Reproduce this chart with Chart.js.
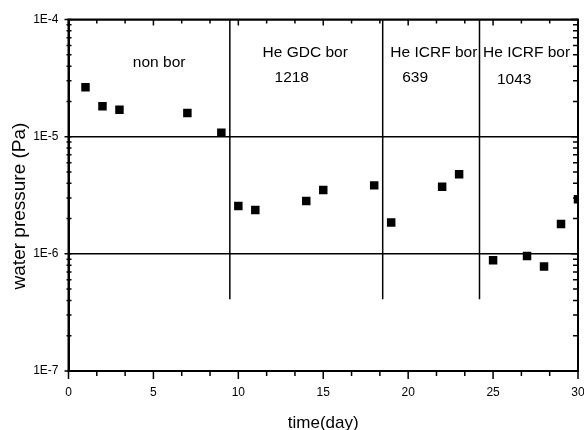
<!DOCTYPE html>
<html>
<head>
<meta charset="utf-8">
<script src="https://cdn.jsdelivr.net/npm/chart.js@4/dist/chart.umd.min.js"></script>
<style>
  html, body { margin: 0; padding: 0; background: #fff; }
  #wrap { width: 584px; height: 430px; position: relative; }
</style>
</head>
<body>
<div id="wrap"><canvas id="c"></canvas></div>
<script>
// ---- data ----
const days = [1, 2, 3, 7, 9, 10, 11, 14, 15, 18, 19, 22, 23, 25, 27, 28, 29, 30];
const pressure = [2.64e-5, 1.82e-5, 1.70e-5, 1.59e-5, 1.08e-5,
                  2.56e-6, 2.37e-6, 2.83e-6, 3.51e-6, 3.84e-6,
                  1.85e-6, 3.74e-6, 4.77e-6,
                  8.8e-7, 9.6e-7, 7.8e-7, 1.80e-6, 2.92e-6];
const dividerDays = [9.5, 18.5, 24.2];
const dividerTop = 1e-4;
const dividerBottom = 4.1e-7;
const yTickValues = [1e-7, 1e-6, 1e-5, 1e-4];
const yTickLabels = ['1E-7', '1E-6', '1E-5', '1E-4'];
const xTickValues = [0, 5, 10, 15, 20, 25, 30];
const annotationTexts = ['non bor', 'He GDC bor', '1218', 'He ICRF bor', '639', 'He ICRF bor', '1043'];
const annotationDays = [3.79, 11.43, 12.13, 18.95, 19.65, 24.41, 25.23];
const annotationValues = [4.25e-5, 5.18e-5, 3.17e-5, 5.18e-5, 3.17e-5, 5.18e-5, 3.05e-5];

const FONT = "'Liberation Sans', Arial, sans-serif";
Chart.defaults.font.family = FONT;
Chart.defaults.color = '#000';

const points = days.map((d, i) => ({ x: d, y: pressure[i] }));
const dividerSets = dividerDays.map(d => ({
  type: 'line',
  data: [{ x: d, y: dividerTop }, { x: d, y: dividerBottom }],
  borderColor: '#000',
  borderWidth: 1.5,
  pointRadius: 0,
  showLine: true,
  fill: false
}));

const decorPlugin = {
  id: 'decor',
  afterDraw(chart) {
    const ctx = chart.ctx;
    const xs = chart.scales.x, ys = chart.scales.y;
    const a = chart.chartArea;
    ctx.save();
    ctx.strokeStyle = '#000';
    // frame
    ctx.lineWidth = 2;
    ctx.strokeRect(a.left, a.top, a.right - a.left, a.bottom - a.top);
    // x ticks (bottom outward, top inward)
    ctx.lineWidth = 1.5;
    for (let i = 0; i <= 18; i++) {
      const v = i * 5 / 3;
      const px = xs.getPixelForValue(v);
      const major = (i % 3 === 0);
      const lb = major ? 8 : 5;
      const lt = major ? 6 : 4;
      ctx.beginPath();
      ctx.moveTo(px, a.bottom); ctx.lineTo(px, a.bottom + lb);
      ctx.moveTo(px, a.top); ctx.lineTo(px, a.top + lt);
      ctx.stroke();
    }
    // y ticks (left crossing, right inward)
    for (let d = -7; d <= -4; d++) {
      for (let m = 1; m <= 9; m++) {
        if (d === -4 && m > 1) break;
        const v = m * Math.pow(10, d);
        const py = ys.getPixelForValue(v);
        const major = (m === 1);
        ctx.beginPath();
        ctx.moveTo(a.left - (major ? 4 : 2), py); ctx.lineTo(a.left + 3, py);
        ctx.moveTo(a.right, py); ctx.lineTo(a.right - (major ? 7 : 5), py);
        ctx.stroke();
      }
    }
    // annotation texts
    ctx.fillStyle = '#000';
    ctx.font = '15.5px ' + FONT;
    ctx.textAlign = 'left';
    ctx.textBaseline = 'middle';
    annotationTexts.forEach((t, i) => {
      ctx.fillText(t, xs.getPixelForValue(annotationDays[i]), ys.getPixelForValue(annotationValues[i]));
    });
    // y-axis title
    ctx.save();
    ctx.translate(20, 206);
    ctx.rotate(-Math.PI / 2);
    ctx.font = '19px ' + FONT;
    ctx.textAlign = 'center';
    ctx.textBaseline = 'middle';
    ctx.fillText('water pressure (Pa)', 0, 0);
    ctx.restore();
    ctx.restore();
  }
};

new Chart(document.getElementById('c'), {
  type: 'scatter',
  data: {
    datasets: [
      {
        data: points,
        pointStyle: 'rect',
        pointRadius: 6,
        pointHoverRadius: 6,
        backgroundColor: '#000',
        borderColor: '#000',
        borderWidth: 0,
        clip: 1
      },
      ...dividerSets
    ]
  },
  plugins: [decorPlugin],
  options: {
    responsive: true,
    maintainAspectRatio: false,
    animation: false,
    events: [],
    layout: { padding: { left: 0, right: 5, top: 19.5, bottom: 0 } },
    plugins: { legend: { display: false }, tooltip: { enabled: false } },
    scales: {
      x: {
        type: 'linear',
        min: 0, max: 30,
        afterBuildTicks: s => { s.ticks = xTickValues.map(v => ({ value: v })); },
        afterFit: s => { s.height = 59; s.paddingLeft = 0; s.paddingRight = 0; },
        ticks: { padding: 14, font: { size: 12 }, color: '#000', maxRotation: 0, autoSkip: false },
        grid: { display: false, drawTicks: false },
        border: { display: true, color: '#000', width: 2 },
        title: { display: true, text: 'time(day)', font: { size: 17, lineHeight: 0.8 }, color: '#000', padding: 0 }
      },
      y: {
        type: 'logarithmic',
        min: 1e-7, max: 1e-4,
        afterBuildTicks: s => { s.ticks = yTickValues.map(v => ({ value: v })); },
        afterFit: s => { s.width = 68.5; s.paddingTop = 0; s.paddingBottom = 0; },
        ticks: {
          padding: 10, font: { size: 12 }, color: '#000', autoSkip: false,
          callback: (v) => { const i = yTickValues.findIndex(t => Math.abs(t - v) / t < 1e-6); return i >= 0 ? yTickLabels[i] : ''; }
        },
        grid: { display: true, color: '#000', lineWidth: 1.5, drawTicks: false },
        border: { display: true, color: '#000', width: 2 }
      }
    }
  }
});
</script>
</body>
</html>
